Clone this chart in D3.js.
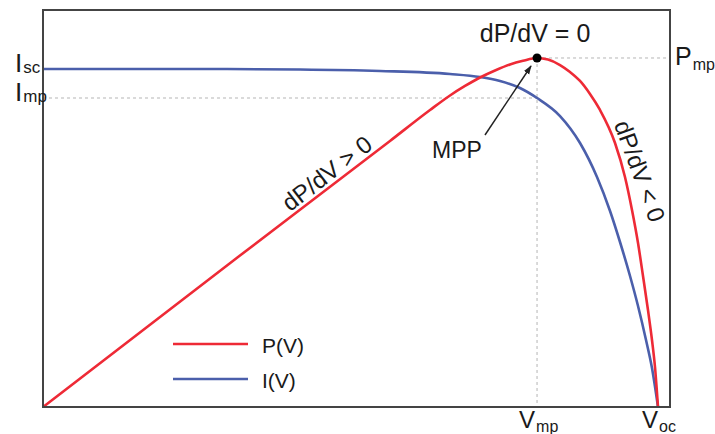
<!DOCTYPE html>
<html>
<head>
<meta charset="utf-8">
<script src="https://cdn.jsdelivr.net/npm/d3@7"></script>
<style>
  body { margin: 0; background: #fff; }
  text { font-family: "Liberation Sans", Arial, sans-serif; fill: #1a1a1a; }
</style>
</head>
<body>
<div id="viz"></div>
<script>
// normalised units: V/Voc, I/Isc, P/Pmp
var voltage = [0, 0.2553, 0.4179, 0.5480, 0.6618, 0.7106, 0.7431, 0.7756, 0.8033, 0.8407, 0.8732,
  0.9008, 0.9220, 0.9382, 0.9545, 0.9675, 0.9805, 0.9902, 1];
var current = [1, 1, 0.9985, 0.9941, 0.9852, 0.9763, 0.9645, 0.9438, 0.9142, 0.8609, 0.7811,
  0.6805, 0.5799, 0.4882, 0.3876, 0.2988, 0.1982, 0.1154, 0];

var powerV = [0, 0.3203, 0.5642, 0.6293, 0.6618, 0.6862, 0.7106, 0.7350, 0.7593, 0.7805, 0.8033,
  0.8211, 0.8407, 0.8569, 0.8732, 0.8894, 0.9057, 0.9301, 0.9463, 0.9577, 0.9675, 0.9756,
  0.9837, 0.9902, 0.9951, 1];
var power = [0, 0.4341, 0.7622, 0.8510, 0.8926, 0.9198, 0.9441, 0.9642, 0.9814, 0.9920, 1,
  0.9954, 0.9799, 0.9599, 0.9341, 0.8968, 0.8510, 0.7564, 0.6590, 0.5645, 0.4699, 0.3754,
  0.2779, 0.1920, 0.1146, 0];

var Vmp = 0.8033, Voc = 1, Isc = 1, Imp = 0.9142, Pmp = 1;
var legendLabels = ["P(V)", "I(V)"];

var W = 715, H = 434;
var margin = {left: 43, top: 10, right: 45, bottom: 27};
var w = W - margin.left - margin.right, h = H - margin.top - margin.bottom;

var x = d3.scaleLinear().domain([0, 1.0195]).range([0, w]);
var yI = d3.scaleLinear().domain([0, 1.1746]).range([h, 0]);
var yP = d3.scaleLinear().domain([0, 1.1375]).range([h, 0]);

var red = "#ee2a36", blue = "#4b5fab", grid = "#b5b5b5";

var svg = d3.select('#viz').append('svg').attr('width', W).attr('height', H);
var defs = svg.append('defs');
defs.append('marker').attr('id', 'arr').attr('viewBox', '0 0 10 10')
  .attr('refX', 9).attr('refY', 5).attr('markerWidth', 6).attr('markerHeight', 6)
  .attr('orient', 'auto')
  .append('path').attr('d', 'M0,1.5 L10,5 L0,8.5 Z').attr('fill', '#222');

var g = svg.append('g').attr('transform', 'translate(' + margin.left + ',' + margin.top + ')');

// dashed guides
g.append('line').attr('x1', 0).attr('x2', x(Vmp)).attr('y1', yI(Imp)).attr('y2', yI(Imp))
  .attr('stroke', grid).attr('stroke-dasharray', '3,3').attr('stroke-width', 1);
g.append('line').attr('x1', x(Vmp)).attr('x2', w).attr('y1', yP(Pmp)).attr('y2', yP(Pmp))
  .attr('stroke', grid).attr('stroke-dasharray', '3,3').attr('stroke-width', 1);
g.append('line').attr('x1', x(Vmp)).attr('x2', x(Vmp)).attr('y1', yP(Pmp)).attr('y2', h)
  .attr('stroke', grid).attr('stroke-dasharray', '3,3').attr('stroke-width', 1);

var ivData = voltage.map(function(v, i) { return [v, current[i]]; });
var pvData = powerV.map(function(v, i) { return [v, power[i]]; });

var lineI = d3.line().x(function(d) { return x(d[0]); }).y(function(d) { return yI(d[1]); })
  .curve(d3.curveMonotoneX);
var lineP = d3.line().x(function(d) { return x(d[0]); }).y(function(d) { return yP(d[1]); })
  .curve(d3.curveMonotoneX);

g.append('path').datum(ivData).attr('d', lineI).attr('fill', 'none')
  .attr('stroke', blue).attr('stroke-width', 2.6);
g.append('path').datum(pvData).attr('d', lineP).attr('fill', 'none')
  .attr('stroke', red).attr('stroke-width', 2.6);

// frame
g.append('rect').attr('x', 0).attr('y', 0).attr('width', w).attr('height', h)
  .attr('fill', 'none').attr('stroke', '#444').attr('stroke-width', 2);

// MPP
g.append('circle').attr('cx', x(Vmp)).attr('cy', yP(Pmp)).attr('r', 4.5).attr('fill', '#000');
g.append('line').attr('x1', 442).attr('y1', 125).attr('x2', x(Vmp) - 6).attr('y2', yP(Pmp) + 8)
  .attr('stroke', '#222').attr('stroke-width', 1.5).attr('marker-end', 'url(#arr)');
g.append('text').attr('x', 414).attr('y', 148).attr('text-anchor', 'middle')
  .style('font-size', '23px').text('MPP');
g.append('text').attr('x', x(Vmp) - 2).attr('y', 32).attr('text-anchor', 'middle')
  .style('font-size', '25px').text('dP/dV = 0');

g.append('text').attr('transform', 'translate(289,170) rotate(-37.6)').attr('text-anchor', 'middle')
  .style('font-size', '24px').text('dP/dV > 0');
g.append('text').attr('transform', 'translate(589,164) rotate(70)').attr('text-anchor', 'middle')
  .style('font-size', '24px').text('dP/dV < 0');

// axis labels with subscripts
function label(px, py, main, sub, size, subSize, dy) {
  var t = svg.append('text').attr('x', px).attr('y', py).style('font-size', size + 'px');
  t.append('tspan').text(main);
  t.append('tspan').attr('dx', 1).attr('dy', dy).style('font-size', subSize + 'px').text(sub);
}
label(15, margin.top + yI(Isc) + 3, 'I', 'sc', 26, 17, 1);
label(15, margin.top + yI(Imp) + 3, 'I', 'mp', 26, 17, 1);
label(675, margin.top + yP(Pmp) + 7, 'P', 'mp', 25, 16, 5);
label(margin.left + x(Vmp) - 18, 428, 'V', 'mp', 24, 16, 4);
label(margin.left + x(Voc) - 16, 428, 'V', 'oc', 24, 16, 4);

// legend
var leg = g.selectAll('.leg').data(legendLabels).enter().append('g')
  .attr('transform', function(d, i) { return 'translate(130,' + (334 + i * 35) + ')'; });
leg.append('line').attr('x1', 0).attr('x2', 75).attr('y1', 0).attr('y2', 0)
  .attr('stroke', function(d, i) { return i === 0 ? red : blue; }).attr('stroke-width', 2.6);
leg.append('text').attr('x', 89).attr('y', 9).style('font-size', '21px').text(function(d) { return d; });
</script>
</body>
</html>
